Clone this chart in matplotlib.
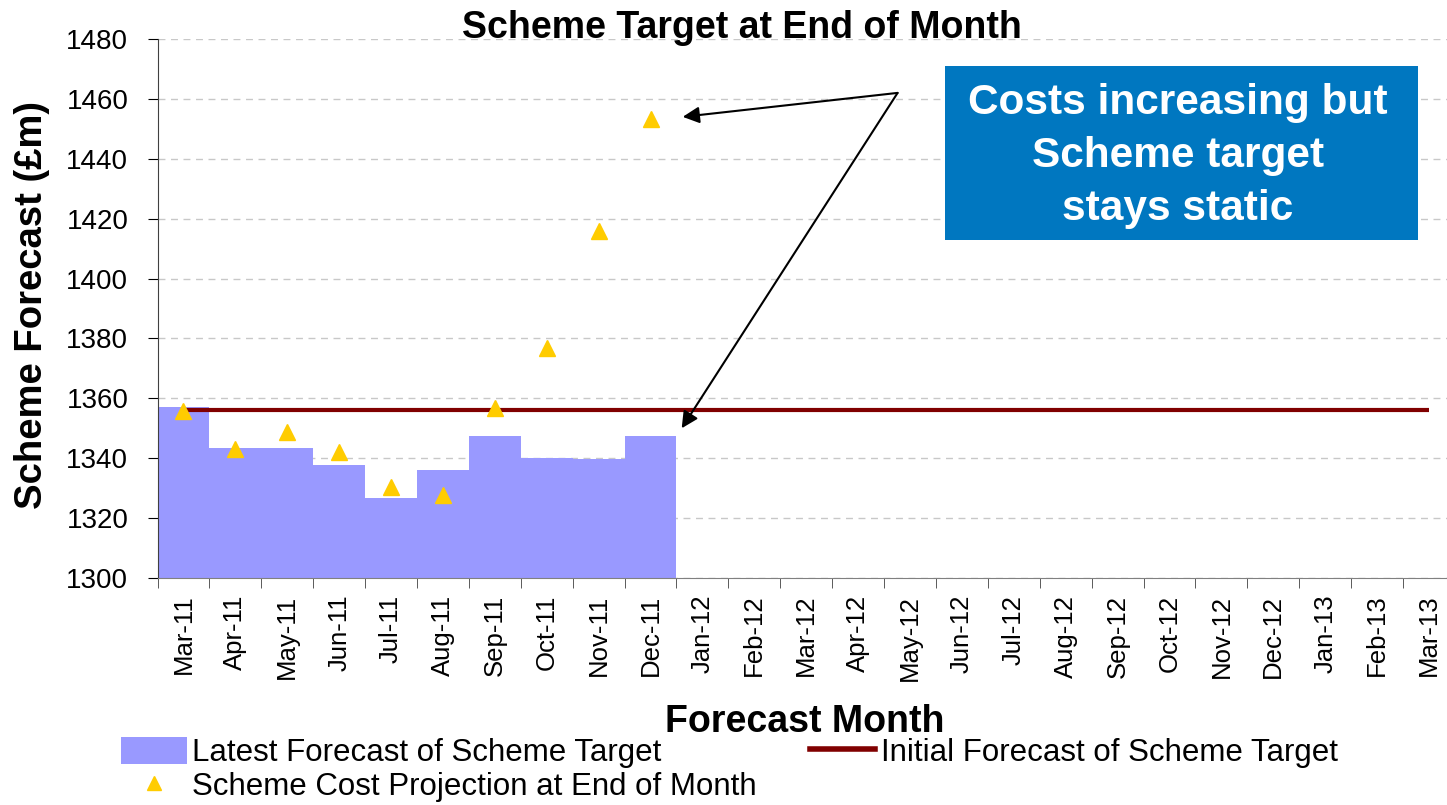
import numpy as np
import matplotlib
matplotlib.use("Agg")
import matplotlib.pyplot as plt
from matplotlib.patches import Patch, Rectangle
from matplotlib.lines import Line2D

plt.rcParams['font.family'] = ['Liberation Sans', 'DejaVu Sans']

months = ['Mar-11', 'Apr-11', 'May-11', 'Jun-11', 'Jul-11', 'Aug-11', 'Sep-11',
          'Oct-11', 'Nov-11', 'Dec-11', 'Jan-12', 'Feb-12', 'Mar-12', 'Apr-12',
          'May-12', 'Jun-12', 'Jul-12', 'Aug-12', 'Sep-12', 'Oct-12', 'Nov-12',
          'Dec-12', 'Jan-13', 'Feb-13', 'Mar-13']
latest_target = [1357.1, 1343.3, 1343.3, 1337.9, 1326.7, 1336.2, 1347.5,
                 1340.2, 1339.6, 1347.5]
cost_projection = [1355.9, 1343.1, 1348.6, 1342.2, 1330.4, 1327.8, 1356.8,
                   1376.9, 1416.0, 1453.4]
initial_target = [1356, 1356, 1356, 1356, 1356, 1356, 1356, 1356, 1356, 1356,
                  1356, 1356, 1356, 1356, 1356, 1356, 1356, 1356, 1356, 1356,
                  1356, 1356, 1356, 1356, 1356]

W, H = 1447, 805
fig = plt.figure(figsize=(W / 100, H / 100), dpi=100)
ax = fig.add_axes([157.5 / W, 1 - 578 / H, (1455 - 157.5) / W, (578 - 39) / H])

x_all = np.arange(len(months))
x_lat = np.arange(len(latest_target))

ax.bar(x_lat, [v - 1300 for v in latest_target], bottom=1300, width=1.0,
       color='#9999FF', edgecolor='none', zorder=2)
ax.plot(x_all, initial_target, color='#800000', lw=3.0, zorder=3,
        solid_capstyle='butt')
ax.plot(np.arange(len(cost_projection)), cost_projection, ls='none',
        marker='^', ms=11.5, color='#FFCC00', mec='#FFCC00', zorder=4)

ax.set_xlim(-0.5, len(months) - 0.5)
ax.set_ylim(1300, 1480)
ax.set_yticks(np.arange(1300, 1481, 20))
ax.yaxis.grid(True, color='#C8C8C8', ls=(0, (5, 4)), lw=1.0)
ax.set_axisbelow(True)

ax.set_xticks(x_all)
ax.set_xticklabels(months, rotation=90, fontsize=18.5)
ax.set_xticks(np.arange(-0.5, len(months), 1.0), minor=True)
ax.tick_params(axis='x', which='major', length=0, pad=12)
ax.tick_params(axis='x', which='minor', length=7, color='#404040', direction='out')
ax.tick_params(axis='y', labelsize=20, length=7, direction='out', pad=14)

for s in ['top', 'right']:
    ax.spines[s].set_visible(False)
ax.spines['left'].set_color('#404040')
ax.spines['bottom'].set_color('#808080')

fig.text(742 / W, 1 - 28 / H, 'Scheme Target at End of Month', ha='center',
         va='center', fontsize=27, fontweight='bold')
fig.text(805 / W, 1 - 722 / H, 'Forecast Month', ha='center', va='center',
         fontsize=27, fontweight='bold')
fig.text(32 / W, 1 - 305 / H, 'Scheme Forecast (£m)', ha='center', va='center',
         rotation=90, fontsize=27.5, fontweight='bold')

# callout box
fig.patches.append(Rectangle((945 / W, 1 - 240 / H), (1418 - 945) / W, (240 - 66) / H,
                             transform=fig.transFigure, facecolor='#0077C0',
                             edgecolor='none', zorder=5))
fig.text(1178 / W, 1 - 156 / H, 'Costs increasing but\nScheme target\nstays static',
         ha='center', va='center', color='white', fontsize=30.5, fontweight='bold',
         linespacing=1.43, zorder=6)

# arrows from a common vertex
vx, vy = 13.76, 1462
for tx, ty in [(9.62, 1454), (9.6, 1350)]:
    ax.annotate('', xy=(tx, ty), xytext=(vx, vy), annotation_clip=False,
                arrowprops=dict(arrowstyle='-|>', color='black', lw=1.5,
                                mutation_scale=25, shrinkA=0, shrinkB=0), zorder=6)

handles = [Patch(facecolor='#9999FF', edgecolor='none'),
           Line2D([], [], ls='none', marker='^', ms=10, color='#FFCC00'),
           Line2D([], [], color='#800000', lw=4)]
labels = ['Latest Forecast of Scheme Target',
          'Scheme Cost Projection at End of Month',
          'Initial Forecast of Scheme Target']
fig.legend(handles, labels, loc='upper left', bbox_to_anchor=(121 / W, 1 - 737 / H),
           ncol=2, frameon=False, fontsize=22.5, handlelength=2.1, handleheight=0.95,
           handletextpad=0.17, columnspacing=1.7, labelspacing=0.08,
           borderaxespad=0, borderpad=0)

fig.savefig('out.png', dpi=100)
